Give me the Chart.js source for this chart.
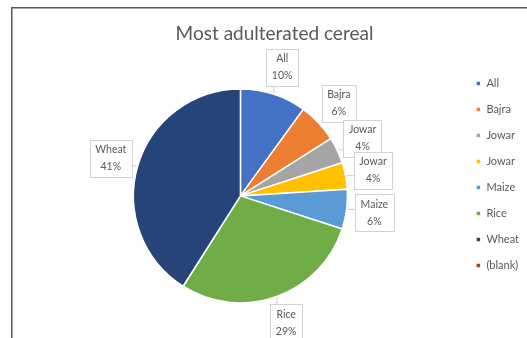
<!DOCTYPE html>
<html>
<head>
<meta charset="utf-8">
<script src="https://cdn.jsdelivr.net/npm/chart.js@4.4.1/dist/chart.umd.min.js"></script>
<style>
  html, body { margin: 0; padding: 0; background: #fff; overflow: hidden; }
  #wrap { width: 527px; height: 338px; position: relative; }
</style>
</head>
<body>
<div id="wrap"><canvas id="chart-area"></canvas></div>
<script>
var labels = ['All', 'Bajra', 'Jowar', 'Jowar', 'Maize', 'Rice', 'Wheat', '(blank)'];
var shares = [10, 6, 4, 4, 6, 29, 41, 0];
var sliceColors = ['#4472C4', '#ED7D31', '#A5A5A5', '#FFC000', '#5B9BD5', '#70AD47', '#264478', '#9E480E'];

var textGrey = '#595959';
var fontName = 'Lato, "Open Sans", sans-serif';

// frame round the chart (right and bottom run off the picture)
var framePlugin = {
  id: 'frame',
  beforeDraw: function(chart) {
    var ctx = chart.ctx;
    ctx.save();
    ctx.strokeStyle = '#5a5a5a';
    ctx.lineWidth = 1.5;
    ctx.beginPath();
    ctx.moveTo(11.75, chart.height);
    ctx.lineTo(11.75, 7.75);
    ctx.lineTo(chart.width, 7.75);
    ctx.stroke();
    ctx.restore();
  }
};

// boxed data labels with short leader lines, like excel's callouts
var boxLabels = {
  id: 'boxLabels',
  afterDatasetsDraw: function(chart, args, opts) {
    var ctx = chart.ctx;
    var meta = chart.getDatasetMeta(0);
    var data = chart.data.datasets[0].data;
    var total = data.reduce(function(a, b) { return a + b; }, 0);
    ctx.save();
    ctx.font = opts.size + 'px ' + fontName;
    ctx.textAlign = 'center';
    ctx.textBaseline = 'middle';
    meta.data.forEach(function(arc, i) {
      if (!data[i]) return;
      var p = arc.getProps(['x', 'y', 'startAngle', 'endAngle', 'outerRadius'], true);
      var mid = (p.startAngle + p.endAngle) / 2;
      var dist = p.outerRadius + opts.gap;
      var cx = p.x + Math.cos(mid) * dist;
      var cy = p.y + Math.sin(mid) * dist;
      var pct = Math.round(data[i] / total * 100) + '%';
      var w = Math.max(ctx.measureText(chart.data.labels[i]).width, ctx.measureText(pct).width) + 11;
      var h = 37;
      var bx = cx - w / 2, by = cy - h / 2;

      // leader line from the slice edge to the box
      var ex = p.x + Math.cos(mid) * (p.outerRadius + 1);
      var ey = p.y + Math.sin(mid) * (p.outerRadius + 1);
      var tx = Math.min(Math.max(ex, bx), bx + w);
      var ty = Math.min(Math.max(ey, by), by + h);
      if (Math.hypot(tx - ex, ty - ey) > 3) {
        ctx.strokeStyle = '#bfbfbf';
        ctx.lineWidth = 0.8;
        ctx.beginPath();
        ctx.moveTo(ex, ey);
        ctx.lineTo(tx, ty);
        ctx.stroke();
      }

      ctx.fillStyle = '#fff';
      ctx.fillRect(bx, by, w, h);
      ctx.strokeStyle = '#c8c8c8';
      ctx.lineWidth = 0.8;
      ctx.strokeRect(Math.round(bx) + 0.5, Math.round(by) + 0.5, Math.round(w), Math.round(h));
      ctx.fillStyle = textGrey;
      ctx.fillText(chart.data.labels[i], cx, cy - 8.5);
      ctx.fillText(pct, cx, cy + 8.5);
    });
    ctx.restore();
  }
};

var config = {
  type: 'pie',
  data: {
    labels: labels,
    datasets: [{
      data: shares,
      backgroundColor: sliceColors,
      borderColor: '#ffffff',
      borderWidth: 1.5,
      radius: 107
    }]
  },
  options: {
    responsive: false,
    animation: false,
    layout: {
      padding: { left: 20, right: -2, top: 11, bottom: 0 }
    },
    plugins: {
      title: {
        display: true,
        text: 'Most adulterated cereal',
        color: textGrey,
        font: { family: fontName, size: 19, weight: 'normal' },
        padding: { top: 11, bottom: 9 }
      },
      legend: {
        display: true,
        position: 'right',
        labels: {
          boxWidth: 5,
          boxHeight: 5,
          padding: 15,
          color: textGrey,
          font: { family: fontName, size: 11 }
        }
      },
      tooltip: { enabled: false },
      boxLabels: {
        gap: 28,
        size: 10.5
      }
    }
  },
  plugins: [framePlugin, boxLabels]
};

window.onload = function() {
  var cv = document.getElementById('chart-area');
  cv.width = 527;
  cv.height = 338;
  var ctx = cv.getContext('2d');
  window.myPie = new Chart(ctx, config);
};
</script>
</body>
</html>
